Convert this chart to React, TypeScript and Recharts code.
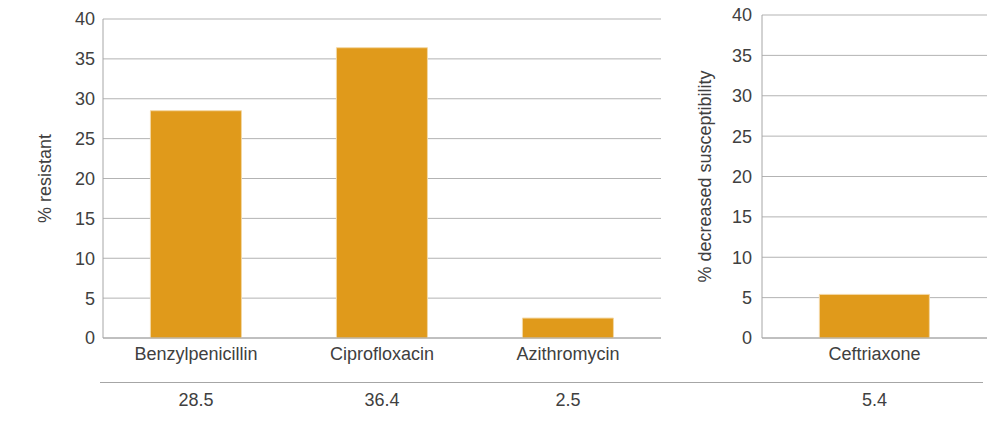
import { BarChart, Bar, XAxis, YAxis, CartesianGrid, Label } from "recharts";

const resistanceDrugs = ["Benzylpenicillin", "Ciprofloxacin", "Azithromycin"];
const resistanceValues = [28.5, 36.4, 2.5];
const susceptibilityDrugs = ["Ceftriaxone"];
const susceptibilityValues = [5.4];
const yTicks = [0, 5, 10, 15, 20, 25, 30, 35, 40];

const BAR_COLOR = "#e09a1b";
const TEXT = "#404040";
const GRID = "#b3b3b3";
const AXIS = "#a6a6a6";
const FONT = "'Liberation Sans', Arial, sans-serif";

const tickStyle = { fill: TEXT, fontSize: 18, fontFamily: FONT };

function rows(names: string[], values: number[]) {
  return names.map((name, i) => ({ name, value: values[i] }));
}

function AxisTitle({ text, cx, viewBox }: { text: string; cx: number; viewBox?: any }) {
  const cy = viewBox.y + viewBox.height / 2;
  return (
    <text
      x={cx}
      y={cy}
      transform={`rotate(-90 ${cx} ${cy})`}
      textAnchor="middle"
      dominantBaseline="central"
      fill={TEXT}
      fontSize={18}
      fontFamily={FONT}
    >
      {text}
    </text>
  );
}

function Panel({
  names,
  values,
  title,
  titleX,
  width,
  top,
  right,
  axisWidth,
  tickMargin,
}: {
  names: string[];
  values: number[];
  title: string;
  titleX: number;
  width: number;
  top: number;
  right: number;
  axisWidth: number;
  tickMargin: number;
}) {
  const data = rows(names, values);
  const lookup: Record<string, string> = {};
  data.forEach((d) => (lookup[d.name] = d.value.toFixed(1)));
  return (
    <BarChart
      width={width}
      height={423}
      data={data}
      margin={{ top, right, left: 0, bottom: 11 }}
      barCategoryGap="25.5%"
    >
      <CartesianGrid vertical={false} stroke={GRID} />
      <XAxis
        dataKey="name"
        height={44}
        tick={{ ...tickStyle, dy: 1 }}
        tickLine={false}
        axisLine={{ stroke: AXIS }}
      />
      <XAxis
        xAxisId="vals"
        dataKey="name"
        height={30}
        tick={{ ...tickStyle, dy: 3 }}
        tickLine={false}
        axisLine={false}
        tickFormatter={(n: string) => lookup[n]}
      />
      <YAxis
        width={axisWidth}
        domain={[0, 40]}
        ticks={yTicks}
        tick={tickStyle}
        tickLine={false}
        tickMargin={tickMargin}
        axisLine={{ stroke: AXIS }}
      >
        <Label content={(p: any) => <AxisTitle text={title} cx={titleX} viewBox={p.viewBox} />} />
      </YAxis>
      <Bar dataKey="value" fill={BAR_COLOR} stroke="#f3d7a4" strokeWidth={1} isAnimationActive={false} />
    </BarChart>
  );
}

export default function App() {
  return (
    <div style={{ position: "relative", width: 1004, height: 423, background: "#fff" }}>
      <style>{"body{margin:0}"}</style>
      <div style={{ position: "absolute", left: 0, top: 0 }}>
        <Panel
          names={resistanceDrugs}
          values={resistanceValues}
          title="% resistant"
          titleX={44.5}
          width={680}
          top={19}
          right={19}
          axisWidth={103}
          tickMargin={2}
        />
      </div>
      <div style={{ position: "absolute", left: 680, top: 0 }}>
        <Panel
          names={susceptibilityDrugs}
          values={susceptibilityValues}
          title="% decreased susceptibility"
          titleX={25}
          width={324}
          top={15}
          right={17}
          axisWidth={82}
          tickMargin={4}
        />
      </div>
      <div
        style={{
          position: "absolute",
          left: 100,
          top: 382,
          width: 883,
          height: 1,
          background: AXIS,
        }}
      />
    </div>
  );
}
